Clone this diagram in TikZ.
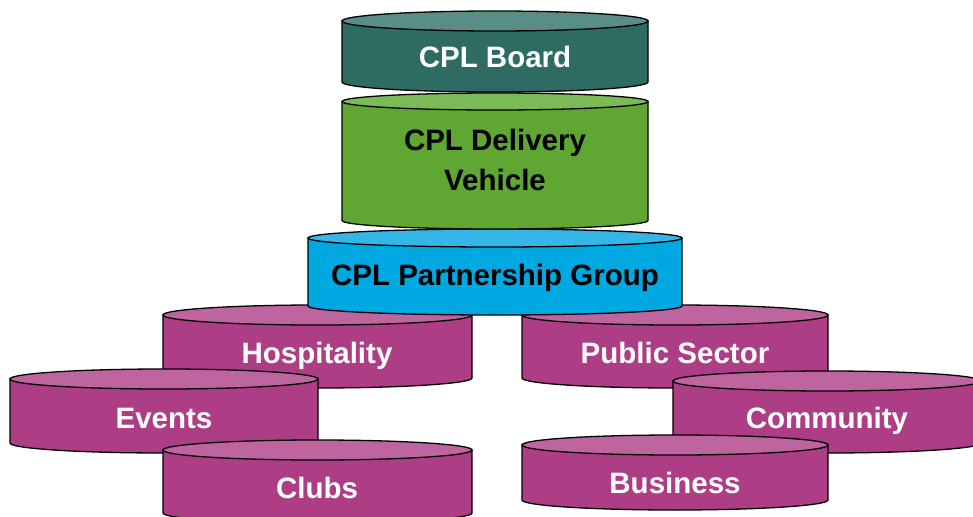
\documentclass[tikz,border=0pt]{standalone}
\usepackage{fontspec}
\setmainfont{Liberation Sans}
\usetikzlibrary{positioning}

\definecolor{boardside}{RGB}{46,107,99}
\definecolor{boardlid}{RGB}{88,142,133}
\definecolor{vehicleside}{RGB}{95,166,50}
\definecolor{vehiclelid}{RGB}{124,186,88}
\definecolor{groupside}{RGB}{0,168,225}
\definecolor{grouplid}{RGB}{52,183,232}
\definecolor{sectorside}{RGB}{173,62,133}
\definecolor{sectorlid}{RGB}{190,100,158}

% drum: left x, right x, lid centre y, base centre y, lid half height, side colour, lid colour
\newcommand{\drum}[7]{%
  \filldraw[fill=#6] (#1,#3) -- (#1,#4)
    arc[start angle=180, end angle=0, x radius={(#2-#1)/2}, y radius=#5]
    -- (#2,#3) -- cycle;
  \filldraw[fill=#7] ({(#1+#2)/2},#3) ellipse[x radius={(#2-#1)/2}, y radius=#5];
}

\begin{document}
\begin{tikzpicture}[x=1pt, y=-1pt, line width=1.3pt,
  lbl/.style={font=\bfseries\fontsize{29.5}{40}\selectfont, inner sep=0pt}]

\useasboundingbox (0,0) rectangle (973,516);
\clip (0,0) rectangle (973,516);

%left branch
\drum{163}{472}{315}{378}{10}{sectorside}{sectorlid}
\drum{10}{318}{379}{443}{10}{sectorside}{sectorlid}
\drum{163}{472}{450}{513}{10}{sectorside}{sectorlid}
%right branch
\drum{522}{828}{315}{378}{10}{sectorside}{sectorlid}
\drum{673}{981}{381}{443}{10}{sectorside}{sectorlid}
\drum{522}{828}{445}{500}{10}{sectorside}{sectorlid}

%central stack
\drum{308}{682}{238}{306}{9}{groupside}{grouplid}
\drum{342}{648}{101.5}{220.5}{8.5}{vehicleside}{vehiclelid}
\drum{342}{648}{21}{82}{10}{boardside}{boardlid}

%labels
\node[lbl, anchor=base, text=white] (board) at (495,68) {CPL Board};
\node[lbl, align=center] (vehicle) at (495,160) {CPL Delivery\\Vehicle};
\node[lbl, anchor=base] (group) at (495,285) {CPL Partnership Group};
\node[lbl, anchor=base, text=white] (hospitality) at (317,363) {Hospitality};
\node[lbl, anchor=base, text=white] (events) at (164,428) {Events};
\node[lbl, anchor=base, text=white] (clubs) at (317,498) {Clubs};
\node[lbl, anchor=base, text=white] (public) at (675,363) {Public Sector};
\node[lbl, anchor=base, text=white] (community) at (827,428) {Community};
\node[lbl, anchor=base, text=white] (business) at (675,493) {Business};

\end{tikzpicture}
\end{document}
